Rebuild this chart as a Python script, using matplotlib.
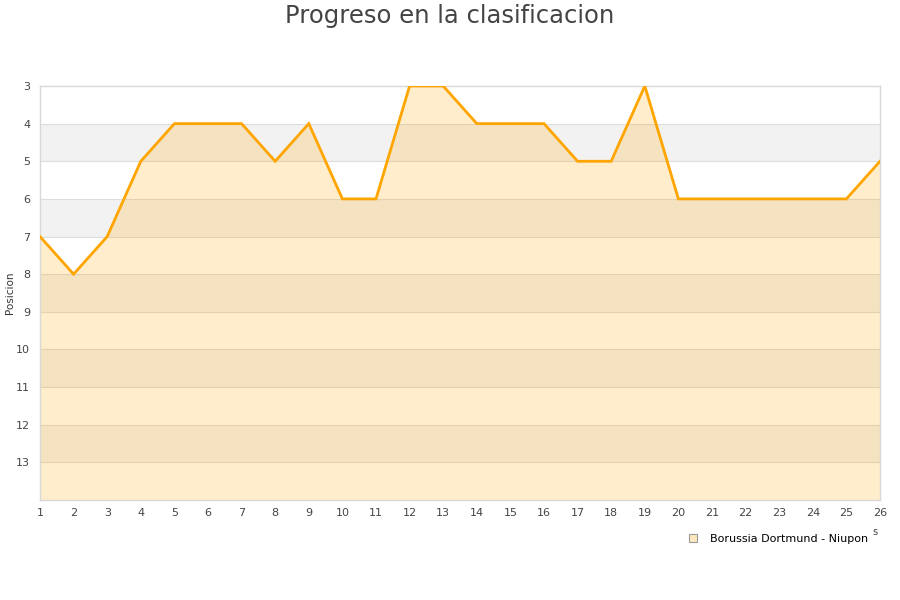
import numpy as np
import matplotlib
matplotlib.use("Agg")
import matplotlib.pyplot as plt
from matplotlib.lines import Line2D

# Datos
jornadas = list(range(1, 27))
posicion = [7, 8, 7, 5, 4, 4, 4, 5, 4, 6, 6, 3, 3, 4, 4, 4, 5, 5, 3, 6, 6, 6, 6, 6, 6, 5]
pos_ticks = list(range(3, 14))
equipo = "Borussia Dortmund - Niupon"
titulo = "Progreso en la clasificacion"

plt.rcParams['font.family'] = ['DejaVu Sans']

fig = plt.figure(figsize=(9, 6), dpi=100)
ax = fig.add_axes([40 / 900, 100 / 600, 840 / 900, 414 / 600])

y_min, y_max = 3, 14

# Bandas alternas
for k in range(4, 14, 2):
    ax.axhspan(k, k + 1, color='#f2f2f2', zorder=0, lw=0)
for k in range(4, 14):
    ax.axhline(k, color='#dddddd', lw=0.8, zorder=1)

# Area y linea
ax.fill_between(jornadas, posicion, y_max, color='#ffa500', alpha=0.2, lw=0, zorder=2)
ax.plot(jornadas, posicion, color='#ffa500', lw=2, zorder=3, solid_joinstyle='miter')

ax.set_xlim(1, 26)
ax.set_ylim(y_max, y_min)
ax.set_xticks(jornadas)
ax.set_yticks(pos_ticks)
ax.tick_params(length=0, labelsize=8, colors='#444444')
ax.tick_params(axis='y', pad=7)
ax.tick_params(axis='x', pad=6)
for s in ax.spines.values():
    s.set_color('#d8d8d8')
    s.set_linewidth(1)

fig.text(10 / 900, 1 - 293 / 600, "Posicion", rotation=90, ha='center', va='center',
         fontsize=7.5, color='#333333')

fig.text(0.5, 1 - 16 / 600, titulo, ha='center', va='center', fontsize=17.5, color='#444444')
fig.text(875 / 900, 1 - 532 / 600, "s", ha='center', va='center', fontsize=7, color='#444444')

handle = Line2D([], [], marker='s', ls='none', markersize=6,
                markerfacecolor='#ffe8c0', markeredgecolor='#999999', markeredgewidth=0.8)
fig.legend([handle], [equipo], loc='center left', bbox_to_anchor=(682 / 900, 1 - 539 / 600),
           frameon=False, fontsize=8, handletextpad=0.5, borderaxespad=0, borderpad=0)

fig.savefig("out.png", dpi=100)
